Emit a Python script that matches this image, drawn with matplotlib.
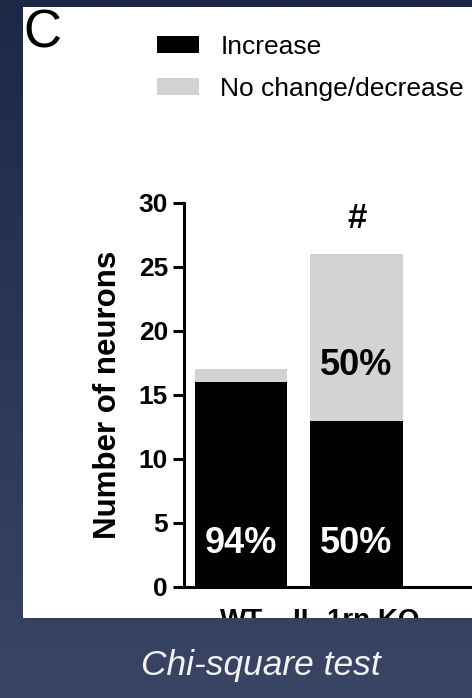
import numpy as np
import matplotlib
matplotlib.use("Agg")
import matplotlib.pyplot as plt
from matplotlib.patches import Rectangle
from matplotlib.transforms import Bbox, TransformedBbox

plt.rcParams["font.family"] = ["Liberation Sans", "DejaVu Sans"]

# Neuron counts per genotype
groups = ["WT", "IL-1rn KO"]
increase = [16, 13]
no_change = [1, 13]
series_labels = ["Increase", "No change/decrease"]
y_ticks = [0, 5, 10, 15, 20, 25, 30]
significance = ["", "#"]
panel_letter = "C"
footer = "Chi-square test"

W, H = 472, 698
fig = plt.figure(figsize=(W / 100, H / 100), dpi=100)

# Navy gradient slide background
bg = fig.add_axes([0, 0, 1, 1], zorder=-10)
top_c = np.array([0x1d, 0x28, 0x47]) / 255
bot_c = np.array([0x3a, 0x45, 0x66]) / 255
t = np.linspace(0, 1, 256)[:, None]
grad = (top_c[None, :] * (1 - t) + bot_c[None, :] * t)[:, None, :]
bg.imshow(grad, aspect="auto", extent=[0, 1, 0, 1])
bg.set_axis_off()

# White figure panel
px0, py0, px1, py1 = 23, 80, 472, 691
panel = Rectangle((px0 / W, py0 / H), (px1 - px0) / W, (py1 - py0) / H,
                  transform=fig.transFigure, facecolor="white",
                  edgecolor="none", zorder=-5)
fig.add_artist(panel)
panel_clip = TransformedBbox(Bbox([[px0 / W, py0 / H], [px1 / W, py1 / H]]),
                             fig.transFigure)

ax = fig.add_axes([184 / W, 111 / H, 288 / W, 384 / H])
ax.set_facecolor("none")
x = np.arange(len(groups))
width = 0.8
b1 = ax.bar(x, increase, width, color="black", edgecolor="none",
            label=series_labels[0])
b2 = ax.bar(x, no_change, width, bottom=increase, color="#d3d3d3",
            edgecolor="none", label=series_labels[1])

ax.set_xlim(-0.494, 2.0)
ax.set_ylim(0, 30)
ax.set_yticks(y_ticks)
ax.set_xticks(x)
ax.set_xticklabels(groups)

for side in ("top", "right"):
    ax.spines[side].set_visible(False)
ax.spines["left"].set_linewidth(2.2)
ax.spines["bottom"].set_linewidth(2.2)
ax.spines["left"].set_bounds(0, 30)

ax.tick_params(axis="y", length=8, width=2.2, pad=3.5, labelsize=19)
ax.tick_params(axis="x", length=0, pad=15, labelsize=20)
for lab in ax.get_yticklabels():
    lab.set_fontweight("bold")
for lab in ax.get_xticklabels():
    lab.set_fontweight("bold")
    lab.set_clip_box(panel_clip)
    lab.set_clip_on(True)

ax.set_ylabel("Number of neurons", fontsize=22.5, fontweight="bold")
ax.yaxis.set_label_coords((108 - 184) / 288, 0.5)
ax.yaxis.label.set_va("center")

totals = [a + b for a, b in zip(increase, no_change)]
for i in range(len(groups)):
    pct_inc = round(100 * increase[i] / totals[i])
    ax.text(x[i], 3.4, f"{pct_inc}%", color="white", ha="center",
            va="center", fontsize=26, fontweight="bold")
    if no_change[i] >= 3:
        pct_nc = round(100 * no_change[i] / totals[i])
        ax.text(x[i], 17.3, f"{pct_nc}%", color="black", ha="center",
                va="center", fontsize=26, fontweight="bold")
    if significance[i]:
        ax.text(x[i], totals[i] + 2.8, significance[i], ha="center",
                va="center", fontsize=25, fontweight="bold")

ax.legend(handles=[b1, b2], loc="upper left",
          bbox_to_anchor=(157 / W, 1 - 35 / H), bbox_transform=fig.transFigure,
          frameon=False, fontsize=19, handlelength=1.6, handleheight=0.6,
          handletextpad=0.8, labelspacing=0.68, borderpad=0, borderaxespad=0)

fig.text(23 / W, 1 - 47 / H, panel_letter, fontsize=38, va="baseline",
         ha="left", color="black")
fig.text(261 / W, 1 - 665 / H, footer, fontsize=25.5, style="italic",
         color="#f2f2f2", ha="center", va="center")

fig.savefig("out.png", dpi=100)
